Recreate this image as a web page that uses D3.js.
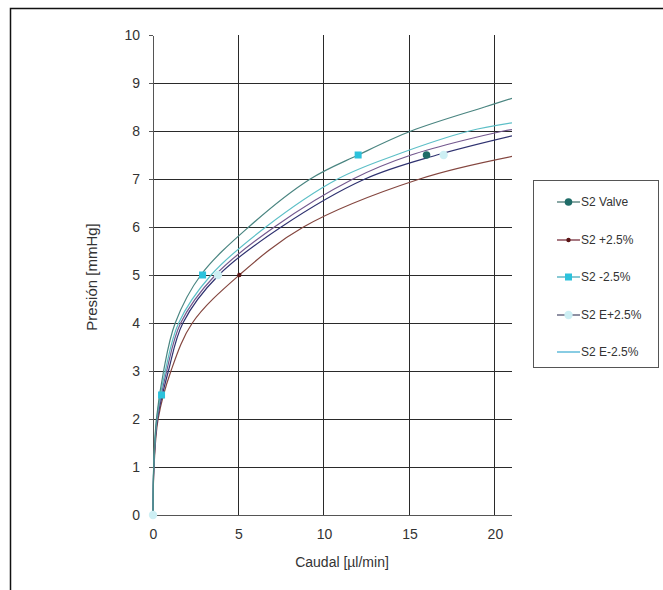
<!DOCTYPE html>
<html>
<head>
<meta charset="utf-8">
<script src="https://cdn.jsdelivr.net/npm/d3@7/dist/d3.min.js"></script>
<style>
  html, body { margin: 0; padding: 0; background: #fff; }
  svg { display: block; }
  text { font-family: "Liberation Sans", Arial, sans-serif; fill: #333; }
</style>
</head>
<body>
<svg id="chart" width="663" height="590"></svg>
<script>
// ---------- DATA ----------
const seriesNames = ["S2 Valve", "S2 +2.5%", "S2 -2.5%", "S2 E+2.5%", "S2 E-2.5%"];

// Curve points (Caudal Q [µl/min], Presión P [mmHg])
const valveQ = [0, 0.04, 0.2, 0.62, 1.3, 2.8, 5.6, 9.2, 12, 15.1, 19.4, 21];
const valveP = [0, 1, 2, 3, 4, 5, 6, 7, 7.5, 8, 8.5, 8.68];

const plusQ = [0, 0.06, 0.3, 1.05, 2.3, 5.05, 8.8, 15.6, 21];
const plusP = [0, 1, 2, 3, 4, 5, 6, 7, 7.47];

const minusQ = [0, 0.04, 0.22, 0.72, 1.5, 3.4, 6.6, 10.8, 14.2, 18.5, 21];
const minusP = [0, 1, 2, 3, 4, 5, 6, 7, 7.5, 8, 8.17];

const ePlusQ = [0, 0.05, 0.26, 0.9, 1.75, 3.85, 7.5, 12.4, 16.6, 21];
const ePlusP = [0, 1, 2, 3, 4, 5, 6, 7, 7.5, 7.9];

const eMinusQ = [0, 0.05, 0.24, 0.8, 1.62, 3.65, 7.1, 11.7, 15.1, 20.5, 21];
const eMinusP = [0, 1, 2, 3, 4, 5, 6, 7, 7.5, 8, 8.03];

// Marker points
const valveMarkQ = [16];
const valveMarkP = [7.5];
const plusMarkQ = [5.05];
const plusMarkP = [5];
const minusMarkQ = [0.5, 2.9, 12];
const minusMarkP = [2.5, 5, 7.5];
const ePlusMarkQ = [0, 3.8, 17];
const ePlusMarkP = [0, 5, 7.5];
const eMinusMarkQ = [];
const eMinusMarkP = [];

const xTicks = [0, 5, 10, 15, 20];
const yTicks = [0, 1, 2, 3, 4, 5, 6, 7, 8, 9, 10];
const xTitle = "Caudal [µl/min]";
const yTitle = "Presión [mmHg]";

// ---------- STYLE ----------
const lineColors   = ["#4a8581", "#84463f", "#5dbfc7", "#2f3270", "#74598f"];
const legendLineColors = ["#3d6f6a", "#6e2030", "#3aa6b8", "#454766", "#3aaad0"];
const markerColors = ["#1f6c68", "#5a1414", "#2cc2dc", "#cdeff4", "#bfeaf2"];
const markerTypes  = ["circle", "dot", "square", "lightcircle", "none"];

const curves = [
  [valveQ, valveP], [plusQ, plusP], [minusQ, minusP], [ePlusQ, ePlusP], [eMinusQ, eMinusP]
];
const marks = [
  [valveMarkQ, valveMarkP], [plusMarkQ, plusMarkP], [minusMarkQ, minusMarkP],
  [ePlusMarkQ, ePlusMarkP], [eMinusMarkQ, eMinusMarkP]
];

// ---------- CHART ----------
const svg = d3.select("#chart");
svg.append("rect").attr("width", 663).attr("height", 590).attr("fill", "#fff");
// outer frame
svg.append("rect").attr("x", 10.5).attr("y", 8.5).attr("width", 700).attr("height", 700)
  .attr("fill", "none").attr("stroke", "#111").attr("stroke-width", 1.5);

const x = d3.scaleLinear().domain([0, 21]).range([153, 512]);
const y = d3.scaleLinear().domain([0, 10]).range([515, 35]);

// gridlines
const grid = svg.append("g").attr("shape-rendering", "crispEdges");
grid.selectAll("line.h").data(yTicks.filter(v => v > 0 && v < 10)).enter().append("line")
  .attr("x1", x(0)).attr("x2", x(21)).attr("y1", d => y(d)).attr("y2", d => y(d))
  .attr("stroke", "#2a2a2a").attr("stroke-width", 1);
grid.selectAll("line.v").data(xTicks.filter(v => v > 0)).enter().append("line")
  .attr("x1", d => x(d)).attr("x2", d => x(d)).attr("y1", y(0)).attr("y2", y(10))
  .attr("stroke", "#2a2a2a").attr("stroke-width", 1);

// axes
const yAxis = svg.append("g").attr("transform", `translate(${x(0)},0)`)
  .call(d3.axisLeft(y).tickValues(yTicks).tickSize(4).tickPadding(9).tickSizeOuter(0));
const xAxis = svg.append("g").attr("transform", `translate(0,${y(0)})`)
  .call(d3.axisBottom(x).tickValues(xTicks).tickSize(0).tickPadding(14).tickSizeOuter(0));
[xAxis, yAxis].forEach(g => {
  g.selectAll("path.domain").attr("stroke", "#555").attr("shape-rendering", "crispEdges");
  g.selectAll("line").attr("stroke", "#555").attr("shape-rendering", "crispEdges");
  g.selectAll("text").attr("font-size", 14).attr("font-family", '"Liberation Sans", Arial, sans-serif').attr("fill", "#333");
});
xAxis.select("path.domain").attr("d", `M${x(0)},0.5H${x(21)}`);

// titles
svg.append("text").attr("x", 342).attr("y", 567).attr("text-anchor", "middle")
  .attr("font-size", 14).text(xTitle);
svg.append("text").attr("transform", `translate(97,277) rotate(-90)`).attr("text-anchor", "middle")
  .attr("font-size", 15).text(yTitle);

// clip
svg.append("clipPath").attr("id", "plotclip").append("rect")
  .attr("x", x(0) - 1).attr("y", y(10)).attr("width", x(21) - x(0) + 1).attr("height", y(0) - y(10) + 1);

const line = d3.line().x(d => x(d[0])).y(d => y(d[1])).curve(d3.curveCatmullRom.alpha(0.5));
const lineG = svg.append("g").attr("clip-path", "url(#plotclip)");
const drawOrder = [1, 3, 4, 2, 0];
drawOrder.forEach(i => {
  const [qs, ps] = curves[i];
  const pts = qs.map((q, k) => [q, ps[k]]);
  lineG.append("path").datum(pts).attr("d", line)
    .attr("fill", "none").attr("stroke", lineColors[i]).attr("stroke-width", 1.2);
});

function drawMarker(g, type, color, cx, cy) {
  if (type === "circle") {
    g.append("circle").attr("cx", cx).attr("cy", cy).attr("r", 3.8).attr("fill", color);
  } else if (type === "dot") {
    g.append("circle").attr("cx", cx).attr("cy", cy).attr("r", 2.2).attr("fill", color);
  } else if (type === "square") {
    g.append("rect").attr("x", cx - 3.5).attr("y", cy - 3.5).attr("width", 7).attr("height", 7).attr("fill", color);
  } else if (type === "lightcircle") {
    g.append("circle").attr("cx", cx).attr("cy", cy).attr("r", 4.2).attr("fill", color);
  }
}

const markG = svg.append("g");
[3, 2, 1, 0].forEach(i => {
  const [qs, ps] = marks[i];
  qs.forEach((q, k) => drawMarker(markG, markerTypes[i], markerColors[i], x(q), y(ps[k])));
});

// legend
const lg = svg.append("g");
lg.append("rect").attr("x", 533.5).attr("y", 180.5).attr("width", 125).attr("height", 187)
  .attr("fill", "#fff").attr("stroke", "#555").attr("stroke-width", 1);
const legendY = [202, 240, 277, 315, 352];
seriesNames.forEach((name, i) => {
  const cy = legendY[i];
  lg.append("line").attr("x1", 557).attr("x2", 580).attr("y1", cy).attr("y2", cy)
    .attr("stroke", legendLineColors[i]).attr("stroke-width", 1.2);
  drawMarker(lg, markerTypes[i], markerColors[i], 568.5, cy);
  lg.append("text").attr("x", 581).attr("y", cy).attr("dy", "0.35em")
    .attr("font-size", 12).text(name);
});
</script>
</body>
</html>
